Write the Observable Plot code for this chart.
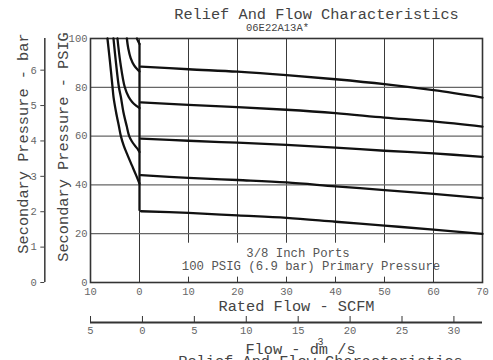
<!DOCTYPE html>
<html><head><meta charset="utf-8">
<script src="https://cdn.jsdelivr.net/npm/d3@7"></script>
<script src="https://cdn.jsdelivr.net/npm/@observablehq/plot@0.6"></script>
<style>
body{margin:0;background:#fff}
#chart svg text{font-family:'Liberation Mono','Courier New',monospace !important}
</style>
</head><body><div id="chart"></div>
<script>
// ---- axis ticks ----
const flowTicks = [-10, 0, 10, 20, 30, 40, 50, 60, 70];
const flowGrid = [0, 10, 20, 30, 40, 50, 60];
const psiTicks = [0, 20, 40, 60, 80, 100];
const psiGrid = [20, 40, 60, 80];
const barTicks = [0, 1, 2, 3, 4, 5, 6];
const dmTicks = [-5, 0, 5, 10, 15, 20, 25, 30];
const PSI_PER_BAR = 14.5038;
const SCFM_PER_DM3S = 2.1189;
const DM_AXIS_SHIFT = 0.6; // SCFM shift of the dm3/s scale as drawn in the source

// ---- flow (regulation) curves: secondary pressure (PSIG) vs rated flow (SCFM) ----
const flowX = [0.3, 10, 20, 30, 40, 50, 60, 70];
const flowCurve1 = [88.5, 87.4, 86.4, 85.0, 83.3, 81.3, 78.8, 75.8];
const flowCurve2 = [73.8, 72.8, 71.9, 70.8, 69.4, 67.6, 66.0, 63.9];
const flowCurve3 = [59.0, 58.1, 57.3, 56.4, 55.3, 54.0, 52.9, 51.5];
const flowCurve4 = [44.0, 42.9, 42.0, 41.0, 39.4, 37.9, 36.3, 34.6];
const flowCurve5 = [29.2, 28.5, 27.5, 26.5, 24.9, 23.3, 21.7, 19.9];

// ---- relief curves (negative flow) ----
const reliefAFlow = [-0.53, -0.25, 0];
const reliefAPsi  = [100, 98.8, 97.8];
const reliefBFlow = [-2.58, -2.3, -1.8, -1.1, -0.4, 0];
const reliefBPsi  = [100, 96, 92, 89, 87.3, 86.5];
const reliefCFlow = [-4.5, -3.9, -3.0, -2.2, -1.5, -0.7, 0];
const reliefCPsi  = [100, 90, 80, 76, 74, 72.5, 71.5];
const reliefDFlow = [-5.31, -4.8, -4.2, -3.8, -3.3, -2.6, -2.1, -1.6, -0.9, -0.3, 0];
const reliefDPsi  = [100, 90, 80, 76, 70, 64, 60, 58, 56, 54.5, 53.5];
const reliefEFlow = [-6.54, -6.0, -5.5, -5.3, -4.8, -4.2, -3.8, -3.2, -2.4, -1.55, -0.7, 0];
const reliefEPsi  = [100, 90, 80, 76, 70, 64, 60, 56, 52, 48, 44, 40.5];

// ---- annotation box (white background under the note text) ----
const noteBox = {flowFrom: 2, flowTo: 58, psiFrom: 2.2, psiTo: 16.1};

const rows = [];
[flowCurve1, flowCurve2, flowCurve3, flowCurve4, flowCurve5].forEach((ys, k) =>
  ys.forEach((p, i) => rows.push({id: "f" + k, flow: flowX[i], psi: p})));
[[reliefAFlow, reliefAPsi], [reliefBFlow, reliefBPsi], [reliefCFlow, reliefCPsi],
 [reliefDFlow, reliefDPsi], [reliefEFlow, reliefEPsi]].forEach(([fx, py], k) =>
  fx.forEach((f, i) => rows.push({id: "r" + k, flow: f, psi: py[i]})));

const lowest = d3.min([flowCurve1, flowCurve2, flowCurve3, flowCurve4, flowCurve5], a => a[0]);
const highestJoin = reliefAPsi[reliefAPsi.length - 1];

const FONT = "'Liberation Mono', 'Courier New', monospace";
const xMin = flowTicks[0], xMax = flowTicks[flowTicks.length - 1];
const yMax = psiTicks[psiTicks.length - 1];
const toScfm = d => d * SCFM_PER_DM3S + DM_AXIS_SHIFT;
const T = (s, o) => Plot.text([s], {text: d => d, lineAnchor: "bottom", fill: "#444", fontFamily: FONT, ...o});

const chart = Plot.plot({
  width: 493, height: 360,
  marginLeft: 90, marginRight: 11, marginTop: 38, marginBottom: 78,
  style: {fontFamily: FONT, background: "#fff"},
  x: {domain: [xMin, xMax]},
  y: {domain: [0, yMax]},
  marks: [
    Plot.ruleX(flowGrid, {y1: 0, y2: yMax, stroke: "#3a3a3a", strokeWidth: 1}),
    Plot.ruleY(psiGrid, {x1: xMin, x2: xMax, stroke: "#666", strokeWidth: 1.2}),
    Plot.rect([noteBox], {x1: "flowFrom", x2: "flowTo", y1: "psiFrom", y2: "psiTo", fill: "#fff"}),
    Plot.frame({stroke: "#333", strokeWidth: 1.6}),
    // psig axis
    Plot.axisY({ticks: psiTicks, tickSize: 0, tickPadding: 3, fontSize: 10.5, fill: "#666"}),
    // bar axis
    Plot.axisY({ticks: barTicks.map(b => b * PSI_PER_BAR), tickFormat: d => Math.round(d / PSI_PER_BAR),
      tickSize: 4, tickPadding: 4, dx: -45.7, fontSize: 10.5, fill: "#666", stroke: "#444"}),
    Plot.ruleX([xMin], {x: d => d, y1: 0, y2: yMax, dx: -45.7, stroke: "#444", strokeWidth: 1.6}),
    // SCFM axis
    Plot.axisX({ticks: flowTicks, tickFormat: d => Math.abs(d), tickSize: 0, tickPadding: 5,
      fontSize: 10.5, fill: "#666"}),
    // dm3/s axis
    Plot.axisX({ticks: dmTicks.map(toScfm), tickFormat: d => Math.abs(Math.round((d - DM_AXIS_SHIFT) / SCFM_PER_DM3S)),
      tickSize: 6, tickPadding: 4, dy: 34, fontSize: 10.5, fill: "#666", stroke: "#333"}),
    Plot.ruleY([0], {y: d => d, x1: xMin, x2: xMax, dy: 40, stroke: "#333", strokeWidth: 1.8}),
    // curves
    Plot.ruleX([0], {x: d => d, y1: lowest, y2: highestJoin, stroke: "#111", strokeWidth: 2.3}),
    Plot.line(rows, {x: "flow", y: "psi", z: "id", curve: "catmull-rom", stroke: "#111", strokeWidth: 2.3}),
    // texts
    T("3/8 Inch Ports", {frameAnchor: "bottom", dx: 11.5, dy: -26, fontSize: 12.3, fill: "#555"}),
    T("100 PSIG (6.9 bar) Primary Pressure", {frameAnchor: "bottom", dx: 24.5, dy: -12.7, fontSize: 12.3, fill: "#555"}),
    T("Relief And Flow Characteristics", {frameAnchor: "top", dx: 30, dy: -20, fontSize: 15.3}),
    T("06E22A13A*", {frameAnchor: "top", dx: -9, dy: -8, fontSize: 10.5}),
    T("Rated Flow - SCFM", {frameAnchor: "bottom", dx: 10, dy: 28, fontSize: 15.3}),
    T("Flow - dm /s", {frameAnchor: "bottom", dx: 14, dy: 71, fontSize: 15.3}),
    T("3", {frameAnchor: "bottom", dx: 34, dy: 62, fontSize: 10}),
    T("Relief And Flow Characteristics", {frameAnchor: "bottom", dx: 34, dy: 83, fontSize: 15.3}),
    T("Secondary Pressure - PSIG", {frameAnchor: "left", textAnchor: "middle", dx: -23, dy: -13.5, rotate: -90, fontSize: 15.3}),
    T("Secondary Pressure - bar", {frameAnchor: "left", textAnchor: "middle", dx: -63, dy: -17, rotate: -90, fontSize: 15.3})
  ]
});
document.getElementById("chart").append(chart);
</script>
</body></html>
